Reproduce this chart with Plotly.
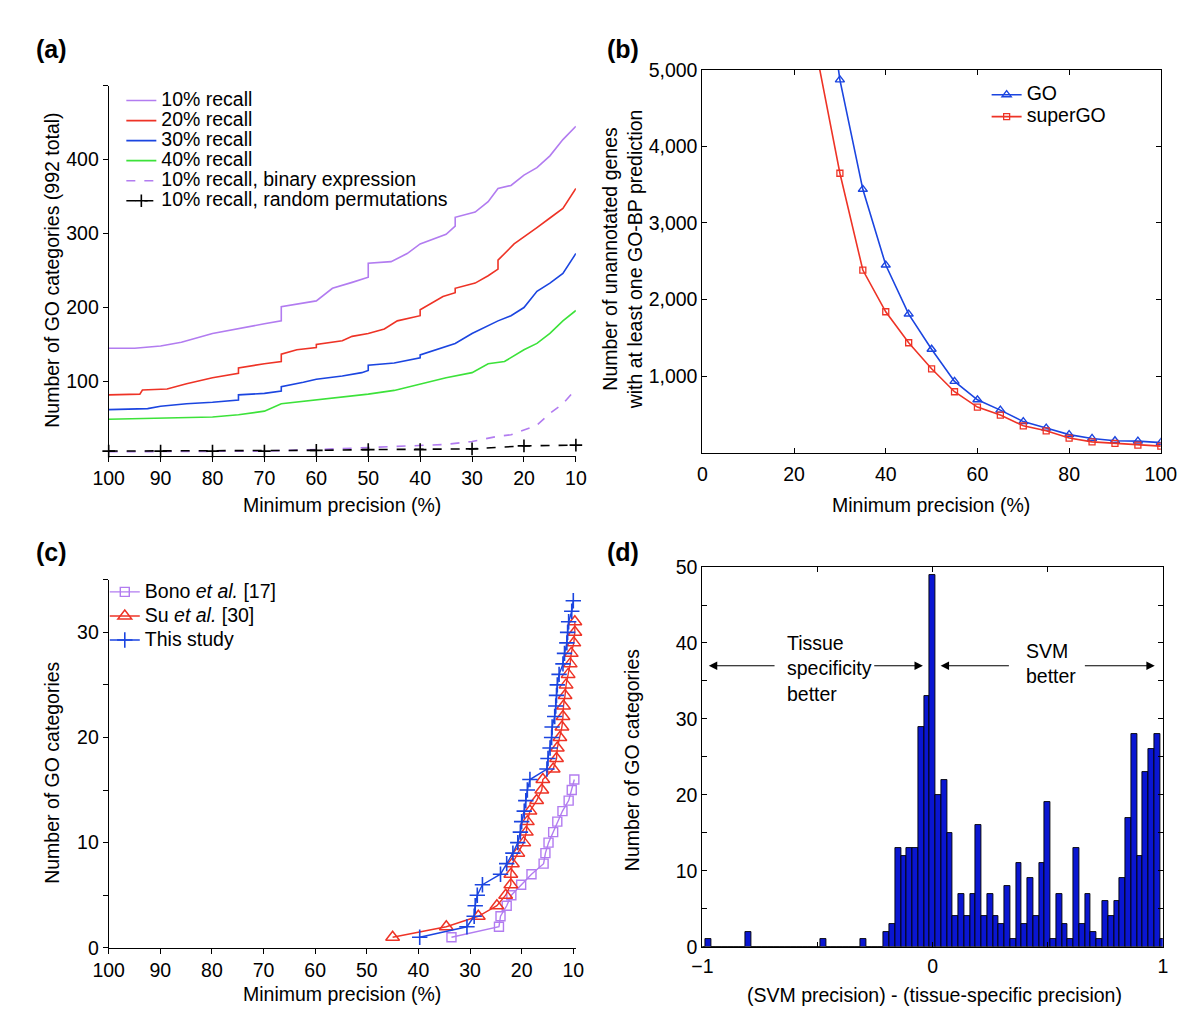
import plotly.graph_objects as go

FONT = "Liberation Sans, Arial, Helvetica, sans-serif"
PURPLE = "#b27cf0"
RED = "#ee3326"
BLUE = "#1b45e0"
GREEN = "#3ce23a"
BAR_BLUE = "#0a16d2"
FS = 19.5

# ---- (a) number of GO categories vs minimum precision ----
prec_r10 = [100, 95, 90, 86, 80, 75, 70, 66.75, 66.75, 60, 56.9, 53.1, 50, 50, 45.6, 42.5, 40, 35,
            33.25, 33.25, 29.4, 26.9, 25, 22.5, 20, 17.5, 15, 12.5, 10]
cats_r10 = [145, 145, 148, 153, 165, 171, 178, 182, 201, 209, 226, 234, 241, 260, 262, 273, 286, 299,
            310, 322, 329, 343, 361, 365, 379, 389, 405, 427, 445]
prec_r20 = [100, 94, 93.5, 88.75, 85, 80, 75, 75, 70, 66.75, 66.75, 63.75, 60, 60, 55, 53.1, 50, 46.9,
            44.4, 40, 40, 37.5, 35.6, 33.25, 33.25, 29.4, 26.9, 25, 25, 21.9, 20, 17.5, 15, 12.5, 10]
cats_r20 = [82, 83, 88.5, 90, 97, 105, 111, 118.5, 124, 127, 137, 143, 146, 150, 155, 161, 165, 171,
            182, 189, 197, 207, 215, 220, 226, 233, 243, 252, 264, 286, 295, 308, 321, 334, 361]
prec_r30 = [100, 92.5, 90, 85, 80, 75, 75, 70, 66.75, 66.75, 62.5, 60, 55, 51.25, 50, 50, 45, 40, 40,
            36.25, 33.25, 30, 25, 22.5, 20, 17.5, 15, 12.5, 10]
cats_r30 = [62, 63.4, 66.5, 70, 72, 75, 82, 84, 87, 93, 99, 103, 107.5, 112, 115, 122, 125, 132, 136,
            145, 151.5, 165, 182, 189, 200, 222, 233, 246, 273]
prec_r40 = [100, 90, 80, 75, 70, 66.75, 60, 55, 50, 45, 40, 35, 30, 26.9, 23.75, 20, 17.5, 15, 12.5, 10]
cats_r40 = [49, 50, 52, 55, 60, 70, 75, 79, 83, 88, 96.5, 105, 112, 124, 127, 143, 151.5, 165, 182, 196]
prec_bin = [100, 90, 80, 70, 60, 50, 40, 35, 30, 25, 22.5, 20, 17.5, 15, 12.5, 10]
cats_bin = [5, 5, 5, 6, 8, 10.5, 13.6, 15, 19, 26, 28, 35, 41, 57, 70, 90]
prec_rand = [100, 90, 80, 70, 60, 50, 40, 30, 20, 10]
cats_rand = [6, 6, 6, 6, 7, 8, 8, 9, 13, 14]

# ---- (b) unannotated genes with >=1 GO-BP prediction ----
prec_b = [25, 30, 35, 40, 45, 50, 55, 60, 65, 70, 75, 80, 85, 90, 95, 100]
genes_go = [7000, 4870, 3440, 2450, 1810, 1350, 930, 690, 555, 405, 320, 235, 185, 155, 150, 130]
genes_supergo = [5190, 3650, 2385, 1840, 1435, 1095, 795, 595, 490, 350, 285, 190, 140, 120, 98, 85]

# ---- (c) comparison with earlier studies ----
bono_prec = [33.6, 24.4, 24.1, 22.9, 22.0, 20.1, 18.1, 15.75, 15.4, 14.8, 13.9, 13.1, 12.1, 10.9, 10.3, 9.8]
bono_n = list(range(1, 17))
su_prec = [45.0, 34.6, 28.4, 24.8, 23.1, 22.1, 22.1, 21.8, 20.75, 19.6, 19.1, 18.9, 18.4, 17.1, 16.1, 15.9,
           13.9, 13.25, 13.1, 12.6, 12.2, 12.0, 11.9, 11.6, 11.4, 11.0, 10.6, 10.4, 9.9, 9.7, 9.7]
su_n = list(range(1, 32))
this_prec = [39.75, 30.6, 29.2, 29.0, 28.6, 27.6, 24.1, 22.9, 21.7, 20.75, 20.25, 20.0, 19.5, 19.2, 18.9,
             18.4, 15.1, 14.9, 14.5, 14.2, 14.1, 13.6, 13.4, 13.25, 13.1, 12.75, 12.0, 11.7, 11.25, 11.1,
             10.9, 10.3, 10.0]
this_n = list(range(1, 34))

# ---- (d) histogram of precision differences (bin centres -1..1, step 0.025) ----
bin_centers = [round(-1 + 0.025 * i, 4) for i in range(81)]
bin_counts = [0, 1, 0, 0, 0, 0, 0, 0, 2, 0, 0, 0, 0, 0, 0, 0, 0, 0, 0, 0,
              0, 1, 0, 0, 0, 0, 0, 0, 1, 0, 0, 0, 2, 3, 13, 12, 13, 13, 29, 33,
              49, 20, 22, 15, 4, 7, 4, 7, 16, 4, 7, 4, 3, 8, 1, 11, 3, 9, 4, 11,
              19, 1, 7, 3, 1, 13, 3, 7, 2, 1, 6, 4, 6, 9, 17, 28, 12, 23, 26, 28, 1]


def big(label):
    # legend row spacing follows legend.font.size; the label itself is drawn at the full text size
    return f"<span style='font-size:{FS}px'>{label}</span>"


def line(x, y, name, color, legend, xa, ya, dash="solid", width=1.6, **kw):
    return go.Scatter(x=x, y=y, name=big(name), mode=kw.pop("mode", "lines"), legend=legend,
                      xaxis=xa, yaxis=ya, line=dict(color=color, width=width, dash=dash), **kw)


fig = go.Figure()
fig.add_trace(line(prec_r10, cats_r10, "10% recall", PURPLE, "legend", "x", "y"))
fig.add_trace(line(prec_r20, cats_r20, "20% recall", RED, "legend", "x", "y"))
fig.add_trace(line(prec_r30, cats_r30, "30% recall", BLUE, "legend", "x", "y"))
fig.add_trace(line(prec_r40, cats_r40, "40% recall", GREEN, "legend", "x", "y"))
fig.add_trace(line(prec_bin, cats_bin, "10% recall, binary expression", PURPLE, "legend", "x", "y",
                   dash="dash"))
fig.add_trace(line(prec_rand, cats_rand, "10% recall, random permutations", "black", "legend", "x", "y",
                   dash="dash", mode="lines+markers", cliponaxis=False,
                   marker=dict(symbol="cross-thin-open", size=9, line=dict(color="black", width=1.6))))

fig.add_trace(line(prec_b, genes_go, "GO", BLUE, "legend2", "x2", "y2", mode="lines+markers",
                   marker=dict(symbol="triangle-up-open", size=8, line=dict(color=BLUE, width=1.4))))
fig.add_trace(line(prec_b, genes_supergo, "superGO", RED, "legend2", "x2", "y2", mode="lines+markers",
                   marker=dict(symbol="square-open", size=6, line=dict(color=RED, width=1.3))))

fig.add_trace(line(bono_prec, bono_n, "Bono <i>et al.</i> [17]", PURPLE, "legend3", "x3", "y3",
                   mode="lines+markers", width=1.4, cliponaxis=False,
                   marker=dict(symbol="square-open", size=9, line=dict(color=PURPLE, width=1.4))))
fig.add_trace(line(su_prec, su_n, "Su <i>et al.</i> [30]", RED, "legend3", "x3", "y3",
                   mode="lines+markers", width=1.4, cliponaxis=False,
                   marker=dict(symbol="triangle-up-open", size=12, line=dict(color=RED, width=1.5))))
fig.add_trace(line(this_prec, this_n, "This study", BLUE, "legend3", "x3", "y3",
                   mode="lines+markers", width=1.4, cliponaxis=False,
                   marker=dict(symbol="cross-thin-open", size=11, line=dict(color=BLUE, width=1.6))))

fig.add_trace(go.Bar(x=bin_centers, y=bin_counts, width=0.025, xaxis="x4", yaxis="y4", showlegend=False,
                     marker=dict(color=BAR_BLUE, line=dict(color="black", width=0.9))))

tickfont = dict(family=FONT, size=FS, color="black")
common = dict(showgrid=False, zeroline=False, showline=True, linecolor="black", linewidth=1,
              tickfont=tickfont, tickcolor="black", ticklen=5)
legend_common = dict(xanchor="left", yanchor="top", bgcolor="rgba(0,0,0,0)", itemwidth=30)

fig.update_layout(
    width=1200, height=1032,
    margin=dict(l=0, r=0, t=0, b=0),
    paper_bgcolor="white", plot_bgcolor="white",
    font=dict(family=FONT, size=FS, color="black"),
    bargap=0,
    xaxis=dict(domain=[0.0725, 0.4725], anchor="y", range=[100, 10], tickvals=prec_rand,
               ticks="outside", **common),
    yaxis=dict(domain=[0.5678, 0.9341], anchor="x", range=[0, 500], tickvals=[100, 200, 300, 400, 500],
               ticktext=["100", "200", "300", "400", ""], ticks="outside", **common),
    xaxis2=dict(domain=[0.5808, 0.9733], anchor="y2", range=[0, 100], tickvals=[0, 20, 40, 60, 80, 100],
                ticks="inside", mirror="ticks", ticklabelstandoff=4, **common),
    yaxis2=dict(domain=[0.5707, 0.9496], anchor="x2", range=[0, 5000],
                tickvals=[1000, 2000, 3000, 4000, 5000], tickformat=",", ticks="inside", mirror="ticks",
                **common),
    xaxis3=dict(domain=[0.0725, 0.4725], anchor="y3", range=[100, 9.5], tickvals=prec_rand,
                ticks="outside", **common),
    yaxis3=dict(domain=[0.0804, 0.4448], anchor="x3", range=[0, 35], tickvals=[0, 5, 10, 15, 20, 25, 30, 35],
                ticktext=["0", "", "10", "", "20", "", "30", ""], ticks="outside", **common),
    xaxis4=dict(domain=[0.5808, 0.975], anchor="y4", range=[-1, 1.0], tickvals=[-1, -0.5, 0, 0.5, 1],
                ticktext=["\u22121", "", "0", "", "1"], ticks="inside", mirror="ticks",
                ticklabelstandoff=2, **common),
    yaxis4=dict(domain=[0.0814, 0.4574], anchor="x4", range=[0, 50], tickvals=list(range(0, 55, 5)),
                ticktext=[str(v) if v % 10 == 0 else "" for v in range(0, 55, 5)], ticks="inside",
                mirror="ticks", **common),
    legend=dict(x=100 / 1200, y=1 - 68 / 1032, font=dict(family=FONT, size=13.1), **legend_common),
    legend2=dict(x=989 / 1200, y=1 - 61 / 1032, font=dict(family=FONT, size=14.6), **legend_common),
    legend3=dict(x=83 / 1200, y=1 - 568 / 1032, font=dict(family=FONT, size=16.2), **legend_common),
)


def paper_text(text, x, y, size=FS, angle=0, bold=False, xanchor="center", yanchor="middle"):
    fig.add_annotation(text=f"<b>{text}</b>" if bold else text, x=x / 1200, y=1 - y / 1032,
                       xref="paper", yref="paper", showarrow=False, textangle=angle,
                       xanchor=xanchor, yanchor=yanchor, font=dict(family=FONT, size=size, color="black"))


# panel letters
paper_text("(a)", 10, 14, size=25, bold=True, xanchor="left", yanchor="top")
paper_text("(b)", 597, 14, size=25, bold=True, xanchor="left", yanchor="top")
paper_text("(c)", 10, 528, size=25, bold=True, xanchor="left", yanchor="top")
paper_text("(d)", 597, 528, size=25, bold=True, xanchor="left", yanchor="top")

# axis titles
paper_text("Minimum precision (%)", 327, 497)
paper_text("Number of GO categories (992 total)", 28, 257, angle=-90)
paper_text("Minimum precision (%)", 932, 497)
paper_text("Number of unannotated genes<br>with at least one GO-BP prediction", 615, 246, angle=-90)
paper_text("Minimum precision (%)", 327, 996)
paper_text("Number of GO categories", 28, 770, angle=-90)
paper_text("(SVM precision) - (tissue-specific precision)", 935, 997)
paper_text("Number of GO categories", 625, 757, angle=-90)

# (d) arrows and labels
for head, tail in ((-0.972, -0.68), (-0.042, -0.26), (0.035, 0.338), (0.965, 0.655)):
    fig.add_annotation(x=head, y=37, ax=tail, ay=37, xref="x4", yref="y4", axref="x4", ayref="y4",
                       text="", showarrow=True, arrowhead=2, arrowsize=1.4, arrowwidth=1.2,
                       arrowcolor="black")
fig.add_annotation(x=-0.64, y=36.6, xref="x4", yref="y4", text="Tissue<br>specificity<br>better",
                   showarrow=False, xanchor="left", align="left", font=dict(family=FONT, size=FS))
fig.add_annotation(x=0.395, y=37.3, xref="x4", yref="y4", text="SVM<br>better",
                   showarrow=False, xanchor="left", align="left", font=dict(family=FONT, size=FS))

fig.write_html("out.html")
